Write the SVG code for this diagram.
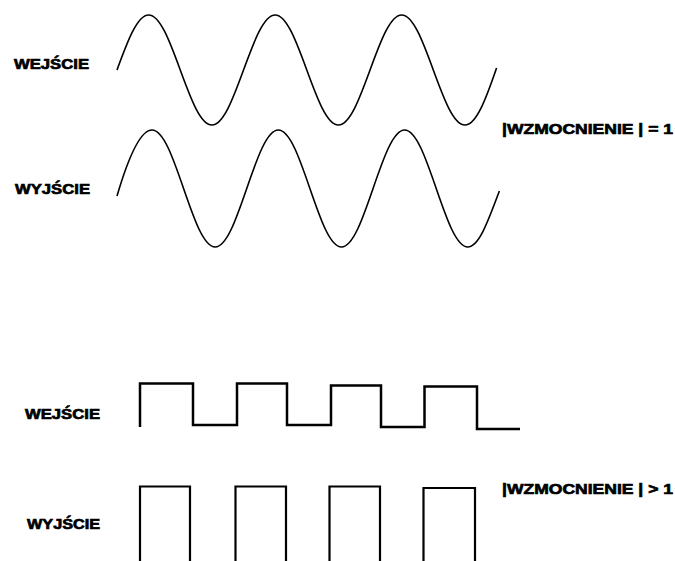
<svg xmlns="http://www.w3.org/2000/svg" width="675" height="561" viewBox="0 0 675 561">
<style>
.lbl{font-family:"Liberation Sans",Arial,sans-serif;font-weight:bold;font-size:15px;fill:#000;stroke:#000;stroke-width:0.7}
.w{fill:none;stroke:#000;stroke-linejoin:miter;stroke-linecap:butt}
</style>
<rect width="675" height="561" fill="#fff"/>
<g id="labels">
<text class="lbl" x="14" y="68.5" textLength="75" lengthAdjust="spacingAndGlyphs">WEJŚCIE</text>
<text class="lbl" x="15" y="193.5" textLength="75" lengthAdjust="spacingAndGlyphs">WYJŚCIE</text>
<text class="lbl" x="502" y="133.5" textLength="171" lengthAdjust="spacingAndGlyphs">|WZMOCNIENIE | = 1</text>
<text class="lbl" x="25" y="418.5" textLength="75" lengthAdjust="spacingAndGlyphs">WEJŚCIE</text>
<text class="lbl" x="27" y="528.5" textLength="73" lengthAdjust="spacingAndGlyphs">WYJŚCIE</text>
<text class="lbl" x="502" y="493.5" textLength="171" lengthAdjust="spacingAndGlyphs">|WZMOCNIENIE | &gt; 1</text>
</g>
<g id="sine-in">
<path class="w" stroke-width="1.6" d="M117,70
c10.31,-28.18 20.18,-55 31.63,-55 c11.45,0 21.31,26.82 31.63,55 c10.31,28.18 20.18,55 31.63,55 c11.45,0 21.31,-26.82 31.63,-55
c10.31,-28.18 20.18,-55 31.63,-55 c11.45,0 21.31,26.82 31.63,55 c10.31,28.18 20.18,55 31.63,55 c11.45,0 21.31,-26.82 31.63,-55
c10.31,-28.18 20.18,-55 31.63,-55 c11.45,0 21.31,26.82 31.63,55 c10.31,28.18 20.18,55 31.63,55 c11.45,0 21.31,-26.82 31.63,-57"/>
</g>
<g id="sine-out">
<path class="w" stroke-width="1.6" d="M117,196 C127,162 139,130 152,130
c11.43,0 21.28,28.53 31.58,58.5 c10.3,29.97 20.15,58.5 31.58,58.5 c11.43,0 21.28,-28.53 31.58,-58.5 c10.3,-29.97 20.15,-58.5 31.58,-58.5
c11.43,0 21.28,28.53 31.58,58.5 c10.3,29.97 20.15,58.5 31.58,58.5 c11.43,0 21.28,-28.53 31.58,-58.5 c10.3,-29.97 20.15,-58.5 31.58,-58.5
c11.43,0 21.28,28.53 31.58,58.5 c10.3,29.97 20.15,58.5 31.58,58.5 c11.43,0 21.28,-28.53 31.58,-56"/>
</g>
<g id="square-in">
<path class="w" stroke-width="2.5" d="M140,427 V383.5 H193 V425 H237 V383.5 H287 V425 H331 V385.5 H381 V427 H424.5 V386.5 H477 V429 H520"/>
</g>
<g id="square-out">
<path class="w" stroke-width="2.2" d="M140,561 V486.5 H190 V561"/>
<path class="w" stroke-width="2.2" d="M235.5,561 V486.5 H286 V561"/>
<path class="w" stroke-width="2.2" d="M329.5,561 V486.5 H380 V561"/>
<path class="w" stroke-width="2.2" d="M423.5,561 V488 H475 V561"/>
</g>
</svg>
